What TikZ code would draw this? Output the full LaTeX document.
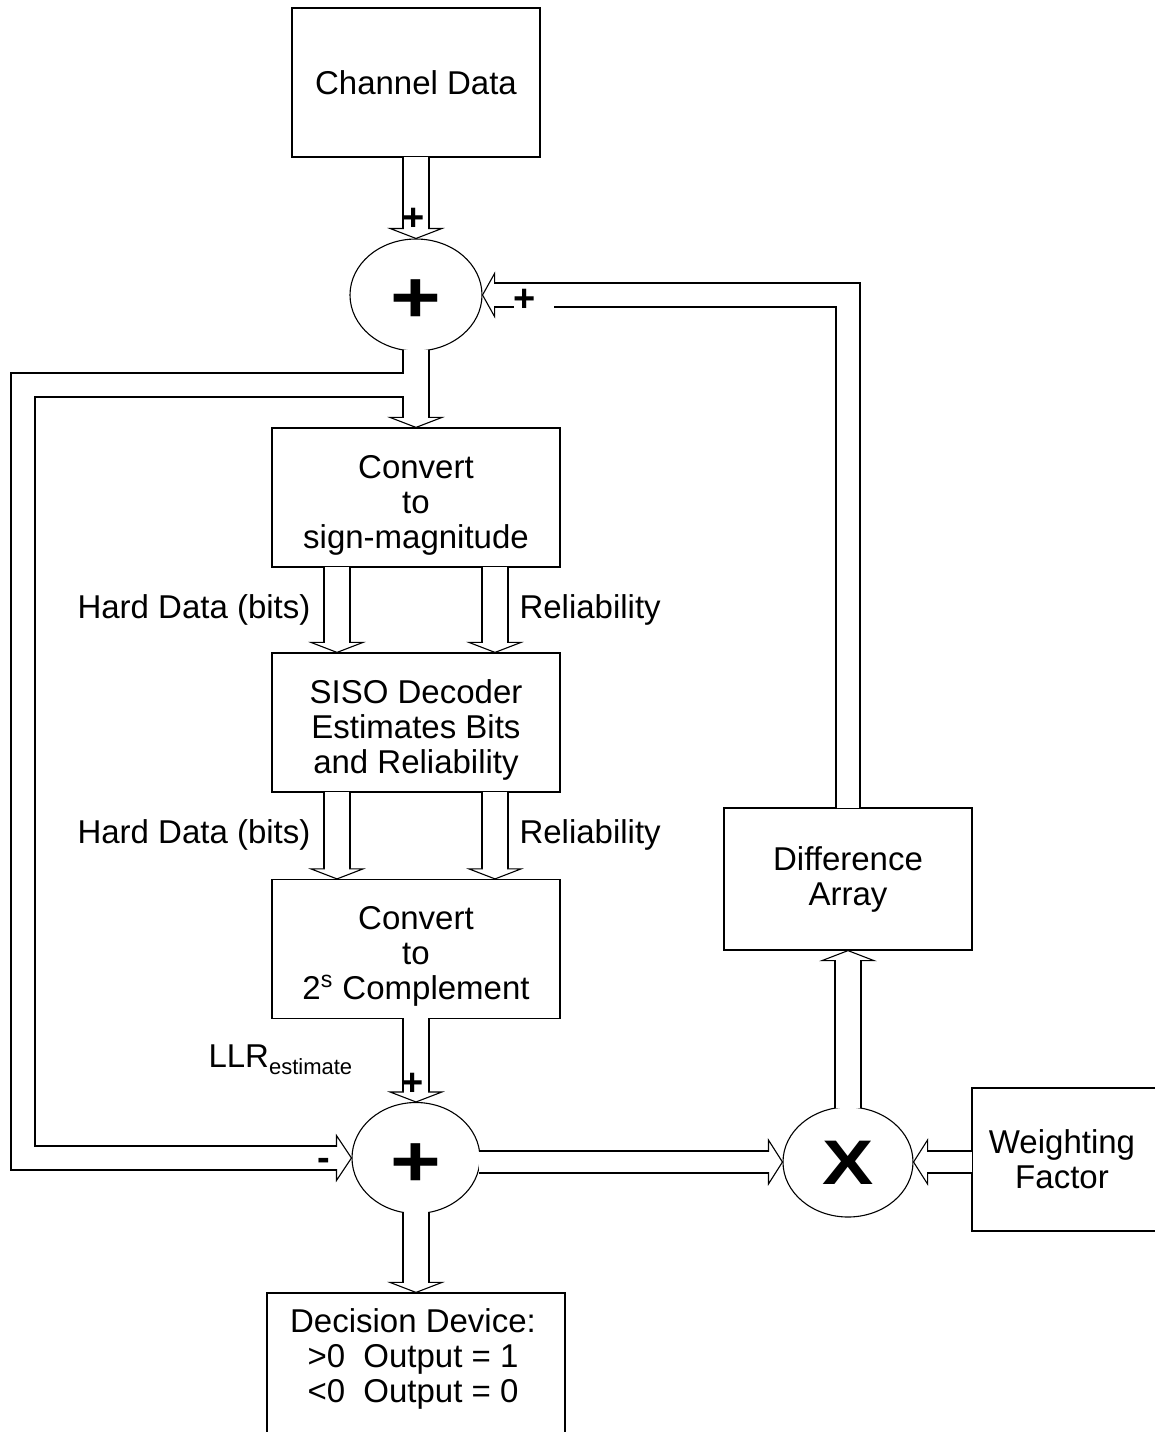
\documentclass[tikz,border=0pt]{standalone}
\usepackage{fontspec}
\usepackage{graphicx}
\setmainfont{Liberation Sans}
\usetikzlibrary{calc,shapes.geometric}

\newcommand\bodyfont{\fontsize{16.5pt}{17.5pt}\selectfont}
\newcommand\smallsign{\fontsize{19pt}{19pt}\selectfont\bfseries}
\newcommand\bigsign{\fontsize{36.5pt}{36.5pt}\selectfont\bfseries}
\newcommand\xsign{\fontsize{31.5pt}{31.5pt}\selectfont\bfseries}
% taller first line, so three-line texts sit a little low in their boxes
\newcommand\toplift{\rule{0pt}{19pt}}

% Hollow block arrow: #1 outer width, #2 inner width, #3 head half width,
% #4 head length, #5 start point, #6 tip point
\newcommand\hollowarrow[6]{%
  \path (#5) coordinate (hS) (#6) coordinate (hT);
  \path ($(hT)!#4!(hS)$) coordinate (hB);
  \path ($(hB)!0.8pt!(hT)$) coordinate (hW)
        ($(hB)!#3!90:(hT)$) coordinate (hL)
        ($(hB)!#3!-90:(hT)$) coordinate (hR);
  \draw[line width=#1] (hS) -- (hB);
  \filldraw[fill=white] (hL) -- (hT) -- (hR) -- cycle;
  \draw[white,line width=#2] (hS) -- (hW);
}
\newcommand\vpipe[2]{\hollowarrow{13.55pt}{12.45pt}{13pt}{5pt}{#1}{#2}}
\newcommand\hpipe[2]{\hollowarrow{11.55pt}{10.45pt}{11pt}{7pt}{#1}{#2}}

\begin{document}
\begin{tikzpicture}[x=0.5pt,y=-0.5pt,line width=0.55pt,
  blk/.style={draw,fill=white,line width=0.6pt,inner sep=0pt,align=center,font=\bodyfont},
  sum/.style={draw,ellipse,fill=white,inner sep=0pt},
  lbl/.style={inner sep=0pt,font=\bodyfont,align=center},
  sign/.style={inner sep=0pt,font=\smallsign},
  ]
\useasboundingbox (0,0) rectangle (1155,1432);
\clip (0,0) rectangle (1155,1432);

% blocks
\node[blk,minimum width=124pt,minimum height=74.5pt] (chan) at (416,82.5) {Channel Data};
\node[sum,minimum width=66pt,minimum height=56pt] (add1) at (416,295) {};
\node[blk,minimum width=144pt,minimum height=69.5pt] (conv1) at (416,497.5) {\toplift Convert\\to\\sign-magnitude};
\node[blk,minimum width=144pt,minimum height=69.5pt] (siso) at (416,722.5) {\toplift SISO Decoder\\Estimates Bits\\and Reliability};
\node[blk,minimum width=144pt,minimum height=69.5pt] (conv2) at (416,949) {\toplift Convert\\to\\2\textsuperscript{s} Complement};
\node[sum,minimum width=64pt,minimum height=55.5pt] (add2) at (416,1158) {};
\node[blk,minimum width=149pt,minimum height=100pt] (dec) at (416,1393) {};
\node[lbl] (dectext) at (413,1359) {Decision Device:\\>0\ \ Output = 1\\<0\ \ Output = 0};
\node[sum,minimum width=65pt,minimum height=55pt] (xm) at (848,1162) {};
\node[blk,minimum width=124pt,minimum height=71pt] (diff) at (848,879) {Difference\\Array};
\node[blk,minimum width=100pt,minimum height=71.5pt] (wf) at (1072,1159.5) {};
\node[lbl] (wftext) at (1062,1159) {Weighting\\Factor};

% forward path
\vpipe{$(chan.south)+(0,-1)$}{add1.north}
\vpipe{$(add1.south)+(0,-2)$}{conv1.north}

% branch from the first sum down to the second sum
\coordinate (brA) at (416,385);
\coordinate (brB) at (23,385);
\coordinate (brC) at (brB |- add2.west);
\path ($(add2.west)!7.5pt!(brC)$) coordinate (brH);
\path ($(brH)!0.8pt!(add2.west)$) coordinate (brW);
\draw[line width=12.55pt] (brA) -- (brB) -- (brC) -- (brH);
\filldraw[fill=white] ($(brH)+(0,-22.5)$) -- (add2.west) -- ($(brH)+(0,22.5)$) -- cycle;
\draw[white,line width=11.45pt] (brA) -- (brB) -- (brC) -- (brW);
\draw[white,line width=12.45pt] (hS) -- (hW);

\vpipe{$(conv1.south)+(-79,-1)$}{$(siso.north)+(-79,0)$}
\vpipe{$(conv1.south)+(79,-1)$}{$(siso.north)+(79,0)$}
\vpipe{$(siso.south)+(-79,-1)$}{$(conv2.north)+(-79,0)$}
\vpipe{$(siso.south)+(79,-1)$}{$(conv2.north)+(79,0)$}
\vpipe{$(conv2.south)+(0,-1)$}{add2.north}
\vpipe{$(add2.south)+(0,-2)$}{dec.north}

% weighting path
\hpipe{$(add2.east |- xm.west)+(-2,0)$}{xm.west}
\hpipe{$(wf.west |- xm.east)+(1,0)$}{xm.east}
\vpipe{$(xm.north)+(0,2)$}{diff.south}

% feedback into the first sum
\coordinate (fbC) at (diff.north |- add1.east);
\path ($(diff.north)+(0,1)$) coordinate (fbS);
\path ($(add1.east)!6pt!(fbC)$) coordinate (fbH);
\path ($(fbH)!0.8pt!(add1.east)$) coordinate (fbW);
\draw[line width=12.55pt] (fbS) -- (fbC) -- (fbH);
\filldraw[fill=white] ($(fbH)+(0,-21.5)$) -- (add1.east) -- ($(fbH)+(0,21.5)$) -- cycle;
\draw[white,line width=11.45pt] (fbS) -- (fbC) -- (fbW);

% signal labels
\node[lbl,anchor=east] (hd1) at (311,610) {Hard Data (bits)};
\node[lbl,anchor=west] (rl1) at (519,610) {Reliability};
\node[lbl,anchor=east] (hd2) at (311,835) {Hard Data (bits)};
\node[lbl,anchor=west] (rl2) at (519,835) {Reliability};
\node[lbl,anchor=base west] (llr) at (208,1067) {LLR\raisebox{-3.5pt}{\fontsize{11pt}{11pt}\selectfont estimate}};

% signs
\node[sign,anchor=base] (p1) at (413.5,230) {+};
\node[sign,anchor=base west,fill=white,text width=20pt,align=left] (p2) at (513,311) {+};
\node[sign,anchor=base] (p3) at (412.5,1095) {+};
\node[sign,anchor=base] (m1) at (324,1170) {-};
\node[inner sep=0pt,anchor=base,font=\bigsign] (s1) at (416,322) {\scalebox{1.19}[1]{+}};
\node[inner sep=0pt,anchor=base,font=\bigsign] (s2) at (415.5,1186.5) {\scalebox{1.19}[1]{+}};
\node[inner sep=0pt,anchor=base,font=\xsign] (s3) at (848,1184) {\scalebox{1.22}[1]{X}};
\end{tikzpicture}
\end{document}
